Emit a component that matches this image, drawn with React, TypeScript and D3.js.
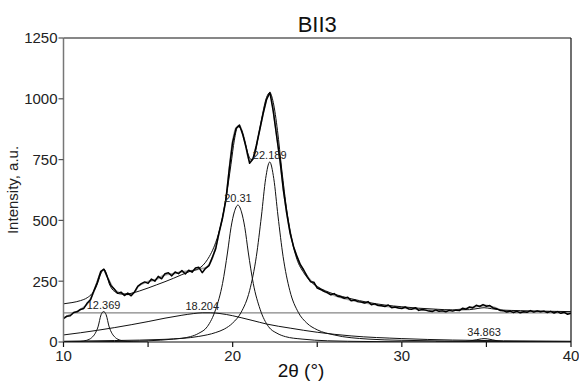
import React from "react";
import * as d3 from "d3";

// measured scan, [2θ, counts]
const measured: [number, number][] = [
  [10.0, 96], [10.2, 106], [10.4, 108], [10.6, 121], [10.8, 124], [11.0, 134], [11.2, 138], [11.4, 160],
  [11.6, 174], [11.8, 212], [12.0, 246], [12.2, 290], [12.4, 299], [12.6, 265], [12.8, 232], [13.0, 218],
  [13.2, 200], [13.4, 205], [13.6, 191], [13.8, 201], [14.0, 190], [14.2, 206], [14.4, 230], [14.6, 240],
  [14.8, 247], [15.0, 241], [15.2, 259], [15.4, 250], [15.6, 270], [15.8, 260], [16.0, 281], [16.2, 285],
  [16.4, 272], [16.6, 288], [16.8, 281], [17.0, 294], [17.2, 280], [17.4, 295], [17.6, 287], [17.8, 304],
  [18.0, 307], [18.2, 285], [18.4, 303], [18.6, 314], [18.8, 348], [19.0, 384], [19.2, 452], [19.4, 510],
  [19.6, 585], [19.8, 712], [20.0, 822], [20.2, 878], [20.4, 892], [20.6, 852], [20.8, 798], [21.0, 735],
  [21.2, 752], [21.4, 808], [21.6, 872], [21.8, 938], [22.0, 996], [22.2, 1026], [22.4, 948], [22.6, 846],
  [22.8, 746], [23.0, 622], [23.2, 528], [23.4, 446], [23.6, 392], [23.8, 352], [24.0, 318], [24.2, 296],
  [24.4, 270], [24.6, 248], [24.8, 246], [25.0, 222], [25.2, 216], [25.4, 208], [25.6, 203], [25.8, 194],
  [26.0, 199], [26.2, 188], [26.4, 186], [26.6, 180], [26.8, 184], [27.0, 170], [27.2, 173], [27.4, 166],
  [27.6, 164], [27.8, 160], [28.0, 166], [28.2, 153], [28.4, 157], [28.6, 150], [28.8, 149], [29.0, 146],
  [29.2, 152], [29.4, 141], [29.6, 144], [29.8, 140], [30.0, 138], [30.2, 144], [30.4, 136], [30.6, 135],
  [30.8, 141], [31.0, 130], [31.2, 134], [31.4, 131], [31.6, 127], [31.8, 125], [32.0, 132], [32.2, 126],
  [32.4, 128], [32.6, 124], [32.8, 130], [33.0, 127], [33.2, 131], [33.4, 129], [33.6, 139], [33.8, 135],
  [34.0, 144], [34.2, 140], [34.4, 151], [34.6, 146], [34.8, 154], [35.0, 147], [35.2, 150], [35.4, 140],
  [35.6, 137], [35.8, 130], [36.0, 129], [36.2, 123], [36.4, 127], [36.6, 121], [36.8, 126], [37.0, 120],
  [37.2, 124], [37.4, 122], [37.6, 129], [37.8, 123], [38.0, 128], [38.2, 124], [38.4, 127], [38.6, 121],
  [38.8, 126], [39.0, 119], [39.2, 125], [39.4, 118], [39.6, 122], [39.8, 114], [40.0, 118],
];

// smoothed scan (grey)
const smoothed: [number, number][] = [
  [10, 98], [10.5, 116], [11, 133], [11.5, 165], [11.8, 208], [12.1, 268], [12.35, 298], [12.6, 266],
  [12.9, 225], [13.3, 202], [13.8, 196], [14.2, 205], [14.4, 228], [15, 248], [15.5, 258], [16, 276],
  [16.5, 281], [17, 288], [17.5, 292], [18, 300], [18.4, 305], [18.8, 345], [19.2, 450], [19.6, 585],
  [20, 825], [20.2, 880], [20.4, 890], [20.7, 830], [21, 745], [21.2, 755], [21.6, 875], [22, 998],
  [22.2, 1024], [22.5, 905], [22.8, 748], [23.2, 530], [23.6, 392], [24, 318], [24.5, 262], [25, 226],
  [25.5, 205], [26, 192], [27, 172], [28, 159], [29, 148], [30, 140], [31, 134], [32, 129], [33, 130],
  [33.6, 136], [34.4, 146], [34.9, 150], [35.4, 143], [36, 129], [37, 124], [38, 126], [39, 123], [40, 118],
];

// fitted sum
const fitSum: [number, number][] = [
  [10, 157], [10.5, 162], [11, 170], [11.4, 182], [11.7, 200], [11.9, 222], [12.05, 248], [12.2, 280],
  [12.37, 300], [12.52, 285], [12.7, 240], [12.87, 218], [13.07, 205], [13.3, 198], [13.6, 197], [14, 200],
  [14.5, 210], [15, 222], [15.5, 235], [16, 248], [16.5, 262], [17, 277], [17.5, 291], [18, 302],
  [18.5, 338], [19, 410], [19.3, 480], [19.6, 590], [19.9, 730], [20.1, 830], [20.3, 885], [20.5, 875],
  [20.7, 830], [20.9, 775], [21.1, 750], [21.3, 770], [21.5, 840], [21.75, 930], [22, 1005], [22.2, 1025],
  [22.4, 985], [22.65, 870], [22.9, 710], [23.2, 540], [23.5, 420], [23.8, 340], [24.2, 285], [24.6, 250],
  [25, 228], [25.5, 210], [26, 197], [27, 178], [28, 163], [29, 152], [30, 145], [31, 139], [32, 135],
  [33, 132], [34, 133], [34.5, 138], [34.86, 141], [35.3, 137], [36, 131], [37, 129], [38, 127], [39, 126],
  [40, 125],
];

const background: [number, number][] = [[10, 120], [40, 120]];

const peak12: [number, number][] = [
  [10, 0], [10.97, 2], [11.37, 7], [11.67, 18], [11.87, 35], [12.04, 62], [12.22, 112], [12.37, 125],
  [12.52, 112], [12.7, 62], [12.87, 35], [13.07, 18], [13.37, 7], [13.77, 2], [14.5, 0], [15, 0],
];
const peak18: [number, number][] = [
  [10, 29], [11, 38], [12, 48], [13, 59], [14, 71], [15, 84], [16, 98], [17, 110], [17.7, 117],
  [18.2, 120], [18.7, 120], [19.25, 117], [20, 108], [20.5, 100], [21.2, 88], [22, 74], [23.4, 57],
  [25, 40], [27, 25], [30, 14], [33, 8], [36, 5], [40, 3],
];
const peak20: [number, number][] = [
  [10, 0], [13, 2], [15, 5], [16.5, 12], [17.5, 22], [18, 36], [18.5, 63], [19, 135], [19.4, 240],
  [19.7, 370], [19.9, 470], [20.1, 535], [20.31, 563], [20.52, 535], [20.72, 470], [20.92, 370],
  [21.22, 240], [21.62, 135], [22.12, 63], [22.62, 36], [23.12, 22], [24.1, 12], [25.6, 5], [28, 2],
  [32, 0], [40, 0],
];
const peak22: [number, number][] = [
  [10, 3], [13, 6], [16, 11], [18, 23], [19, 39], [19.5, 53], [20, 78], [20.5, 122], [21, 211],
  [21.4, 352], [21.7, 518], [21.95, 672], [22.19, 740], [22.43, 672], [22.68, 518], [22.98, 352],
  [23.38, 211], [23.88, 122], [24.38, 78], [25, 50], [26, 29], [28, 12], [30, 7], [35, 2.5], [40, 1],
];
const peak35: [number, number][] = [
  [32, 0], [33.5, 1], [34, 4], [34.4, 9], [34.7, 13], [34.86, 14], [35.05, 13], [35.35, 9],
  [35.7, 4], [36.2, 1], [37.5, 0],
];

const peakCenters = [12.369, 18.204, 20.31, 22.189, 34.863];
const peakHeights = [125, 120, 563, 740, 14];
const peakLabels = ["12.369", "18.204", "20.31", "22.189", "34.863"];

const xTicks = [10, 15, 20, 25, 30, 35, 40];
const xTickLabels = ["10", "", "20", "", "30", "", "40"];
const yTicks = [0, 250, 500, 750, 1000, 1250];

const width = 579;
const height = 383;
const margin = { top: 38, right: 8, bottom: 41, left: 63.5 };
const font = "'Liberation Sans', Arial, sans-serif";

export default function App() {
  const x = d3.scaleLinear().domain([10, 40]).range([margin.left, width - margin.right]);
  const y = d3.scaleLinear().domain([0, 1250]).range([height - margin.bottom, margin.top]);

  const smooth = d3
    .line<[number, number]>()
    .x((d) => x(d[0]))
    .y((d) => y(d[1]))
    .curve(d3.curveMonotoneX);
  const raw = d3
    .line<[number, number]>()
    .x((d) => x(d[0]))
    .y((d) => y(d[1]));

  const [x0, x1] = x.range();
  const [yb, yt] = y.range();
  const components = [peak12, peak18, peak20, peak22, peak35];

  return (
    <svg
      width={width}
      height={height}
      style={{ position: "absolute", left: 0, top: 0, background: "#fff" }}
      fontFamily={font}
    >
      <defs>
        <clipPath id="plot">
          <rect x={x0} y={yt} width={x1 - x0} height={yb - yt} />
        </clipPath>
      </defs>

      <text x={(x0 + x1) / 2} y={31.5} textAnchor="middle" fontSize={22} fill="#111">
        BII3
      </text>

      <g clipPath="url(#plot)" fill="none">
        <path d={raw(background) ?? ""} stroke="#858585" strokeWidth={1.3} />
        {components.map((c, i) => (
          <path key={i} d={smooth(c) ?? ""} stroke="#111" strokeWidth={1} />
        ))}
        <path d={smooth(smoothed) ?? ""} stroke="#a3a3a3" strokeWidth={1.8} />
        <path d={smooth(fitSum) ?? ""} stroke="#111" strokeWidth={1} />
        <path d={raw(measured) ?? ""} stroke="#000" strokeWidth={1.5} strokeLinejoin="round" />
      </g>

      {peakLabels.map((t, i) => (
        <text
          key={t}
          x={x(peakCenters[i])}
          y={y(peakHeights[i]) - 3}
          textAnchor="middle"
          fontSize={11}
          fill="#222"
        >
          {t}
        </text>
      ))}

      {/* frame */}
      <line x1={x0} x2={x1} y1={yt} y2={yt} stroke="#111" strokeWidth={1.2} />
      <line x1={x1} x2={x1} y1={yt} y2={yb} stroke="#111" strokeWidth={1.2} />
      <line x1={x0} x2={x0} y1={yt} y2={yb} stroke="#777" strokeWidth={1.5} />
      <line x1={x0} x2={x1} y1={yb} y2={yb} stroke="#111" strokeWidth={1.2} />

      {yTicks.map((t) => (
        <g key={t}>
          <line x1={x0 - 5} x2={x0} y1={y(t)} y2={y(t)} stroke="#555" strokeWidth={1.2} />
          <text x={x0 - 6} y={y(t)} dy="0.36em" textAnchor="end" fontSize={15} fill="#222">
            {t}
          </text>
        </g>
      ))}

      {xTicks.map((t, i) => (
        <g key={t}>
          <line x1={x(t)} x2={x(t)} y1={yb} y2={yb + 5} stroke="#111" strokeWidth={1.2} />
          <text x={x(t)} y={yb + 19} textAnchor="middle" fontSize={15} fill="#222">
            {xTickLabels[i]}
          </text>
        </g>
      ))}

      <text x={301} y={377} textAnchor="middle" fontSize={19} fill="#111">
        2θ (°)
      </text>
      <text
        transform={`translate(18, ${(yt + yb) / 2}) rotate(-90)`}
        textAnchor="middle"
        fontSize={15}
        fill="#222"
      >
        Intensity, a.u.
      </text>
    </svg>
  );
}
